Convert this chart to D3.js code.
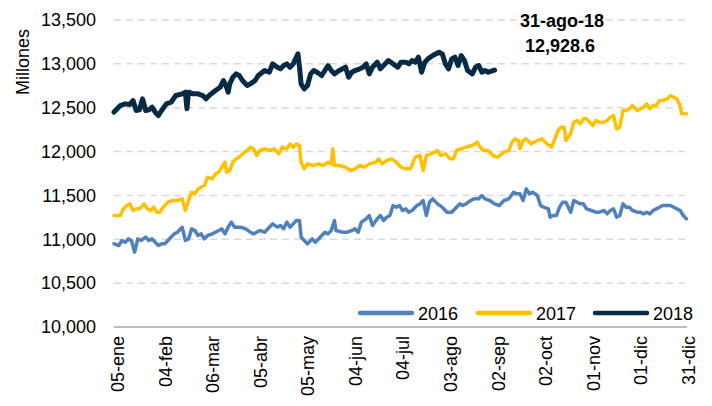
<!DOCTYPE html>
<html>
<head>
<meta charset="utf-8">
<script src="https://cdn.jsdelivr.net/npm/d3@7"></script>
<style>
    body { margin: 0; background: #fff; }
    text { font-family: "Liberation Sans", Arial, sans-serif; fill: #000; }
</style>
</head>
<body>
<div id="chart"></div>
<script>
// series names (each year drawn on the same calendar axis)
const years = ["2016", "2017", "2018"];

// [day of year, millones]
const s2016 = [[3,10948],[6,10929],[8,10986],[10,10967],[12,11005],[14,10986],[16,10853],[18,11005],[20,10986],[23,11024],
    [25,10986],[27,11005],[29,10967],[31,10929],[33,10948],[35,10948],[37,10986],[39,11024],[41,11062],[43,11081],
    [46,11138],[48,10986],[50,11005],[52,11119],[54,11100],[56,11043],[58,11062],[60,11005],[62,11043],[65,11062],
    [67,11081],[69,11100],[71,11119],[73,11062],[75,11138],[77,11195],[79,11138],[81,11138],[83,11138],[86,11119],
    [89,11081],[91,11062],[93,11081],[95,11100],[98,11081],[101,11138],[103,11176],[106,11138],[108,11157],[110,11119],
    [112,11195],[114,11138],[116,11176],[118,11214],[120,11214],[121,11024],[123,10986],[125,10948],[128,11005],[130,10967],
    [133,11024],[136,11081],[138,11062],[140,11100],[142,11214],[143,11100],[147,11081],[150,11081],[153,11100],[155,11119],
    [157,11081],[159,11195],[162,11233],[164,11271],[166,11157],[169,11233],[171,11271],[173,11214],[175,11252],[177,11271],
    [179,11385],[181,11366],[183,11385],[185,11328],[187,11347],[189,11309],[191,11328],[194,11385],[196,11404],[198,11442],
    [200,11271],[202,11423],[204,11461],[207,11404],[210,11366],[213,11309],[216,11309],[219,11366],[221,11404],[223,11385],
    [225,11404],[228,11442],[230,11461],[233,11461],[235,11499],[237,11461],[240,11442],[243,11404],[246,11385],[249,11442],
    [252,11461],[255,11537],[257,11518],[259,11518],[261,11442],[263,11575],[265,11518],[267,11537],[270,11499],[272,11385],
    [274,11366],[277,11347],[278,11252],[280,11271],[282,11271],[284,11366],[286,11423],[288,11423],[291,11309],[293,11442],
    [295,11423],[297,11404],[299,11404],[301,11347],[304,11328],[307,11309],[309,11309],[312,11328],[314,11290],[316,11328],
    [318,11347],[320,11252],[322,11271],[324,11404],[326,11366],[328,11366],[330,11328],[333,11309],[335,11309],[337,11290],
    [339,11309],[341,11290],[343,11328],[345,11347],[347,11366],[349,11385],[352,11385],[354,11385],[356,11366],[358,11347],
    [360,11328],[362,11271],[364,11233]];

const s2017 = [[3,11271],[7,11271],[9,11347],[11,11385],[13,11404],[15,11328],[17,11347],[19,11347],[22,11404],[24,11347],
    [26,11328],[28,11366],[30,11309],[32,11309],[34,11366],[37,11423],[40,11442],[43,11442],[46,11461],[48,11328],
    [50,11442],[52,11537],[54,11518],[56,11575],[58,11594],[60,11613],[62,11708],[65,11689],[67,11746],[69,11765],
    [71,11822],[73,11879],[74,11765],[76,11784],[78,11879],[80,11917],[82,11936],[84,11974],[87,12012],[89,12050],
    [91,12031],[93,11955],[95,12012],[98,12031],[101,12012],[104,12031],[107,11974],[109,12050],[112,12031],[114,12088],
    [116,12050],[118,12088],[120,12069],[121,11879],[123,11803],[125,11860],[129,11841],[132,11860],[135,11841],[138,11879],
    [140,11860],[141,12031],[142,11841],[145,11841],[149,11822],[152,11784],[155,11803],[158,11841],[161,11822],[164,11860],
    [168,11879],[170,11917],[172,11860],[175,11898],[178,11917],[181,11879],[184,11822],[187,11803],[190,11803],[193,11936],
    [196,11955],[198,11784],[200,11955],[203,11974],[207,12012],[209,11955],[212,11974],[215,11917],[217,11917],[219,12012],
    [222,12031],[225,12050],[229,12069],[232,12107],[234,12050],[236,12012],[239,12012],[242,11955],[245,11936],[249,11993],
    [252,12012],[254,12107],[256,12145],[258,12126],[259,12031],[261,12126],[263,12145],[266,12088],[270,12126],[273,12145],
    [276,12088],[279,12050],[281,12145],[283,12240],[285,12278],[287,12278],[288,12126],[291,12202],[293,12335],[295,12354],
    [297,12316],[299,12373],[301,12373],[303,12335],[305,12297],[307,12354],[309,12335],[312,12335],[314,12354],[316,12392],
    [318,12411],[320,12259],[322,12278],[324,12468],[326,12468],[328,12487],[330,12525],[333,12468],[335,12487],[337,12506],
    [339,12544],[341,12487],[343,12525],[345,12525],[347,12582],[349,12582],[352,12601],[354,12639],[356,12620],[358,12601],
    [360,12525],[361,12430],[364,12430]];

const s2018 = [[3,12450],[7,12525],[10,12544],[13,12536],[15,12582],[17,12468],[19,12476],[21,12601],[23,12468],[25,12476],
    [27,12506],[29,12449],[31,12411],[33,12468],[36,12544],[39,12563],[42,12639],[46,12658],[48,12677],[49,12487],
    [50,12677],[53,12658],[56,12658],[59,12639],[61,12601],[63,12639],[67,12696],[70,12734],[72,12810],[74,12734],
    [75,12677],[76,12772],[78,12848],[80,12886],[82,12867],[84,12810],[87,12753],[89,12772],[92,12810],[94,12867],
    [98,12924],[101,12905],[103,13000],[106,12962],[108,12943],[110,12981],[112,13000],[114,12962],[116,13000],[118,13076],
    [119,13114],[120,12962],[121,12772],[123,12715],[125,12753],[127,12886],[129,12924],[131,12905],[134,12867],[136,12924],
    [138,12981],[140,12924],[142,12886],[145,12924],[149,12962],[151,12848],[153,12905],[155,12924],[158,12943],[160,12962],
    [162,13000],[164,12886],[166,12962],[169,13019],[171,12943],[174,13000],[176,13038],[179,13000],[182,12962],[184,13019],
    [187,13019],[189,13000],[191,13038],[193,13019],[195,13076],[197,12905],[199,13019],[201,13057],[204,13095],[208,13133],
    [210,13114],[212,13000],[214,12943],[216,13057],[218,13076],[220,12981],[222,13095],[224,13038],[226,12924],[229,12886],
    [231,12962],[233,12981],[235,12905],[237,12924],[239,12905],[243,12928.6]];

// x axis ticks
const tickDays = [5, 35, 65, 95, 125, 155, 185, 215, 245, 275, 305, 335, 365];
const tickLabels = ["05-ene", "04-feb", "06-mar", "05-abr", "05-may", "04-jun", "04-jul",
    "03-ago", "02-sep", "02-oct", "01-nov", "01-dic", "31-dic"];
const yTicks = [10000, 10500, 11000, 11500, 12000, 12500, 13000, 13500];

// last point label
const lastLabel = "31-ago-18";

const colors = ["#4F81BD", "#FFC000", "#072B45"];
const widths = [3.5, 3.5, 5];

const W = 712, H = 406;
const plot = { left: 114, right: 688, top: 20, bottom: 327 };

const toDate = d => new Date(2018, 0, d);

const svg = d3.select("#chart").append("svg")
    .attr("width", W)
    .attr("height", H);

const x = d3.scaleTime()
    .domain([toDate(3), toDate(365)])
    .range([plot.left, plot.right]);

const y = d3.scaleLinear()
    .domain([10000, 13500])
    .range([plot.bottom, plot.top]);

// dashed gridlines
svg.append("g")
    .selectAll("line")
    .data(yTicks.slice(1))
    .enter().append("line")
    .attr("x1", plot.left)
    .attr("x2", plot.right - 1)
    .attr("y1", d => y(d))
    .attr("y2", d => y(d))
    .attr("stroke", "#d9d9d9")
    .attr("stroke-width", 1.5)
    .attr("stroke-dasharray", "7,5");

// y axis labels (no axis line)
const yAxis = d3.axisLeft(y)
    .tickValues(yTicks)
    .tickFormat(d3.format(","))
    .tickSize(0)
    .tickPadding(18);
const gy = svg.append("g")
    .attr("transform", "translate(" + plot.left + ",0)")
    .call(yAxis);
gy.select(".domain").remove();
gy.selectAll("text")
    .style("font-size", "18px")
    .style("font-family", "'Liberation Sans', Arial, sans-serif")
    .attr("fill", "#000");

// x axis
const xAxis = d3.axisBottom(x)
    .tickValues(tickDays.map(toDate))
    .tickFormat((d, i) => tickLabels[i])
    .tickSize(0)
    .tickPadding(0);
const gx = svg.append("g")
    .attr("transform", "translate(0," + plot.bottom + ")")
    .call(xAxis);
gx.select(".domain")
    .attr("d", "M" + plot.left + ",0H" + (plot.right - 1))
    .attr("stroke", "#a6a6a6")
    .attr("stroke-width", 1.5);
gx.selectAll("text")
    .attr("transform", "rotate(-90)")
    .attr("x", -9)
    .attr("y", 0)
    .attr("dy", "0.35em")
    .style("text-anchor", "end")
    .style("font-size", "18px")
    .style("font-family", "'Liberation Sans', Arial, sans-serif")
    .attr("fill", "#000");

// lines
const line = d3.line()
    .x(d => x(toDate(d[0])))
    .y(d => y(d[1]));

[s2016, s2017, s2018].forEach((s, i) => {
    svg.append("path")
        .datum(s)
        .attr("d", line)
        .attr("fill", "none")
        .attr("stroke", colors[i])
        .attr("stroke-width", widths[i])
        .attr("stroke-linejoin", "round")
        .attr("stroke-linecap", "round");
});

// y axis title
svg.append("text")
    .attr("transform", "rotate(-90)")
    .attr("x", -62)
    .attr("y", 29)
    .attr("text-anchor", "middle")
    .style("font-size", "18px")
    .text("Millones");

// annotation for last 2018 value
const last = s2018[s2018.length - 1];
svg.append("text")
    .attr("x", 562)
    .attr("y", 27)
    .attr("text-anchor", "middle")
    .style("font-size", "18px")
    .style("font-weight", "bold")
    .text(lastLabel);
svg.append("text")
    .attr("x", 560)
    .attr("y", 52)
    .attr("text-anchor", "middle")
    .style("font-size", "18px")
    .style("font-weight", "bold")
    .text(d3.format(",.1f")(last[1]));

// legend
const legend = svg.append("g");
const legX = [360, 478, 595];
years.forEach((yr, i) => {
    legend.append("line")
        .attr("x1", legX[i])
        .attr("x2", legX[i] + 52)
        .attr("y1", 313)
        .attr("y2", 313)
        .attr("stroke", colors[i])
        .attr("stroke-width", 4.5)
        .attr("stroke-linecap", "round");
    legend.append("text")
        .attr("x", legX[i] + 58)
        .attr("y", 319.5)
        .style("font-size", "18px")
        .text(yr);
});
</script>
</body>
</html>
